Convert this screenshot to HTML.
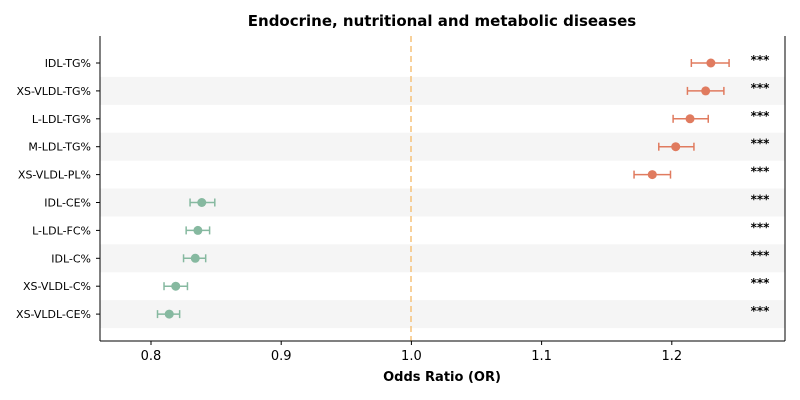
<!DOCTYPE html>
<html><head><meta charset="utf-8"><style>
body{margin:0;background:#fff;}
svg{display:block;font-family:"DejaVu Sans","Liberation Sans",sans-serif;}
</style></head><body>
<svg id="chart" width="800" height="400">
<text x="442" y="26" text-anchor="middle" font-size="15" font-weight="bold">Endocrine, nutritional and metabolic diseases</text>
<g id="stripes"></g>
<line x1="411" y1="36" x2="411" y2="341" stroke="#f5c27a" stroke-width="1.5" stroke-dasharray="6,4"/>
<g id="marks"></g>
<line x1="100" y1="36" x2="100" y2="341" stroke="#000" stroke-width="1"/>
<line x1="785" y1="36" x2="785" y2="341" stroke="#000" stroke-width="1"/>
<line x1="100" y1="341" x2="785" y2="341" stroke="#000" stroke-width="1"/>
<g id="xticks"></g>
<g id="ylabels"></g>
<text x="442" y="381" text-anchor="middle" font-size="13" font-weight="bold">Odds Ratio (OR)</text>
</svg>
<script>
const categories=["IDL-TG%","XS-VLDL-TG%","L-LDL-TG%","M-LDL-TG%","XS-VLDL-PL%","IDL-CE%","L-LDL-FC%","IDL-C%","XS-VLDL-C%","XS-VLDL-CE%"];
const orValues=[1.230,1.226,1.214,1.203,1.185,0.839,0.836,0.834,0.819,0.814];
const ciLow=[1.215,1.212,1.201,1.190,1.171,0.830,0.827,0.825,0.810,0.805];
const ciHigh=[1.244,1.240,1.228,1.217,1.199,0.849,0.845,0.842,0.828,0.822];
const sigLabels=["***","***","***","***","***","***","***","***","***","***"];
const xTicks=[0.8,0.9,1.0,1.1,1.2];
const xTickLabels=["0.8","0.9","1.0","1.1","1.2"];
const NS="http://www.w3.org/2000/svg";
const x=v=>151+(v-0.8)*1302;
const y=i=>63+i*27.9;
function mk(tag,attrs,parent){const e=document.createElementNS(NS,tag);for(const k in attrs)e.setAttribute(k,attrs[k]);document.getElementById(parent).appendChild(e);return e;}
categories.forEach((c,i)=>{
 if(i%2===1){const r=mk('rect',{x:100,y:y(i)-14,width:685,height:28,fill:'#f5f5f5'},'stripes');
 
 }
 const col=orValues[i]>1?'#e07b5f':'#86b9a0';
 const g=mk('g',{},'marks');
 
 
 const a=x(ciLow[i]),b=x(ciHigh[i]),yy=y(i);
 [[a,yy,b,yy],[a,yy-4,a,yy+4],[b,yy-4,b,yy+4]].forEach(l=>{const e=document.createElementNS(NS,'line');e.setAttribute('x1',l[0]);e.setAttribute('y1',l[1]);e.setAttribute('x2',l[2]);e.setAttribute('y2',l[3]);e.setAttribute('stroke',col);e.setAttribute('stroke-width','1.5');g.appendChild(e);});
 const ci=document.createElementNS(NS,'circle');ci.setAttribute('cx',x(orValues[i]));ci.setAttribute('cy',yy);ci.setAttribute('r',4.5);ci.setAttribute('fill',col);g.appendChild(ci);
 const s=mk('text',{x:760,y:yy+1,'text-anchor':'middle','font-size':12,'font-weight':'bold'},'marks');s.textContent=sigLabels[i];
 
 
 const t=mk('text',{x:91,y:yy+4,'text-anchor':'end','font-size':11},'ylabels');t.textContent=c;
 
 
 mk('line',{x1:96,y1:yy,x2:100,y2:yy,stroke:'#000'},'ylabels');
});
xTicks.forEach((v,i)=>{
 mk('line',{x1:x(v),y1:341,x2:x(v),y2:345,stroke:'#000'},'xticks');
 const t=mk('text',{x:x(v),y:360,'text-anchor':'middle','font-size':13},'xticks');t.textContent=xTickLabels[i];
 
 
});
</script>
</body></html>
